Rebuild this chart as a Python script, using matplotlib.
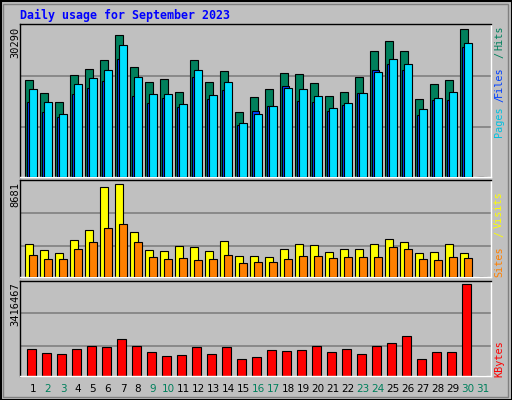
import matplotlib
matplotlib.use("Agg")
import matplotlib.pyplot as plt
from matplotlib.patches import Rectangle

# Données (jours 1..31)
days = list(range(1, 32))
hits = [19804, 17131, 15281, 20830, 22063, 23913, 29057, 22474, 19393, 20009,
        17336, 23913, 19393, 21652, 13225, 16308, 17953, 21241, 21036, 19187,
        16514, 17336, 20420, 25763, 27820, 25763, 15897, 18981, 19804, 30290, 0]
files = [15281, 13225, 12197, 16925, 18159, 19598, 24119, 16514, 15075, 16103,
         14253, 20420, 15897, 17747, 10552, 13431, 14458, 18570, 15486, 15281,
         13431, 14664, 17131, 21858, 23091, 21858, 12608, 15692, 15692, 26587, 0]
pages = [17953, 15281, 12814, 18981, 20214, 21858, 26998, 20420, 16925, 16925,
         14869, 21858, 16719, 19392, 10963, 12814, 14458, 18159, 17953, 16514,
         14047, 15075, 17131, 21447, 24119, 23091, 13841, 16103, 17336, 27409, 0]
visits = [3040, 2476, 2194, 3416, 4357, 8399, 8681, 4168, 2476, 2382,
          2852, 2758, 2382, 3322, 1912, 1912, 1818, 2570, 3040, 2946,
          2288, 2570, 2570, 3040, 3510, 3228, 2194, 2288, 3040, 2194, 0]
sites = [2006, 1630, 1630, 2570, 3228, 4544, 4921, 3228, 1818, 1630,
         1724, 1536, 1630, 2006, 1254, 1348, 1348, 1630, 1912, 1912,
         1724, 1818, 1818, 1818, 2758, 2570, 1630, 1536, 1818, 1724, 0]
kbytes = [985029, 835400, 798000, 985029, 1097246, 1059840, 1359100, 1097246, 872810, 723200,
          760600, 1059840, 798000, 1059840, 611000, 685800, 947600, 910200, 947600, 1097246,
          872810, 985029, 798000, 1097246, 1209460, 1471300, 611000, 872810, 872810, 3416467, 0]
weekend = [2, 3, 9, 10, 16, 17, 23, 24, 30, 31]

W, H = 512, 400
fig = plt.figure(figsize=(W / 100, H / 100), dpi=100, facecolor="#C0C0C0")

def px_axes(top, bottom, left=20, right=491):
    return fig.add_axes([left / W, 1 - bottom / H, (right - left) / W, (bottom - top) / H])

def style(ax, maxval, frac, grids):
    ax.set_facecolor("#C0C0C0")
    ax.set_xlim(1 - 13 / 15, 1 + (471 - 13) / 15)
    ax.set_ylim(0, maxval / frac)
    for g in grids:
        ax.axhline(maxval / frac * g, color="#808080", lw=1.2, zorder=0)
    ax.set_xticks([])
    ax.set_yticks([])
    for s in ax.spines.values():
        s.set_color("black")
        s.set_linewidth(1)
    ax.spines["right"].set_color("white")
    ax.spines["bottom"].set_color("white")

mono = "DejaVu Sans Mono"
lw = 0.8

# panneau du haut : hits / files / pages
ax1 = px_axes(24.3, 176.7)
style(ax1, 30290, 0.967, [0.324, 0.659])
x = days
ax1.bar([d - 0.27 for d in x], hits, width=0.48, color="#00805C", edgecolor="black", lw=lw, zorder=2)
ax1.bar([d - 0.17 for d in x], files, width=0.48, color="#0040FF", edgecolor="black", lw=lw, zorder=3)
ax1.bar(x, pages, width=0.48, color="#00E0FF", edgecolor="black", lw=lw, zorder=4)

# panneau du milieu : visits / sites
ax2 = px_axes(180, 276.7)
style(ax2, 8681, 0.955, [0.317, 0.656])
ax2.bar([d - 0.25 for d in x], visits, width=0.54, color="#FFFF00", edgecolor="black", lw=lw, zorder=2)
ax2.bar(x, sites, width=0.48, color="#FF8000", edgecolor="black", lw=lw, zorder=3)

# panneau du bas : kbytes
ax3 = px_axes(280.7, 375.7)
style(ax3, 3416467, 0.962, [0.31, 0.657])
ax3.bar([d - 0.1 for d in x], kbytes, width=0.66, color="#FF0000", edgecolor="black", lw=lw, zorder=2)

def ftext(px, py, s, **kw):
    fig.text(px / W, 1 - py / H, s, **kw)

ftext(20, 15, "Daily usage for September 2023", color="#0000FF", family=mono,
      fontsize=8.4, fontweight="bold", va="center", ha="left")

# valeurs max à gauche
for py, s in [(25, "30290"), (180, "8681"), (280, "3416467")]:
    ftext(15, py + 2, s, rotation=90, family=mono, fontsize=7.5, va="top", ha="center")

# légendes à droite (texte vertical)
legend_parts = [
    (137, "Pages", "#00C0E0"), (102, "/", "#0040FF"), (97, "Files", "#0040FF"),
    (58, "/", "#00805C"), (50, "Hits", "#00805C"),
    (277, "Sites", "#FF8000"), (237, "/", "#FFFF00"), (228, "Visits", "#FFFF00"),
    (377, "KBytes", "#FF0000"),
]
for py, s, c in legend_parts:
    ftext(499, py, s, rotation=90, family=mono, fontsize=7.3, color=c, va="bottom", ha="center")

# étiquettes des jours
for d in days:
    c = "#00805C" if d in weekend else "black"
    ftext(33 + (d - 1) * 15, 389, str(d), color=c, fontsize=7.5, ha="center", va="center")

# bordure de la figure
fig.patches.append(Rectangle((0.5 / W, 0.5 / H), 1 - 1 / W, 1 - 1 / H, transform=fig.transFigure,
                             fill=False, edgecolor="black", lw=1.5))
fig.patches.append(Rectangle((3 / W, 3 / H), 1 - 7 / W, 1 - 7 / H, transform=fig.transFigure,
                             fill=False, edgecolor="#808080", lw=1))

fig.savefig("out.png", dpi=100, facecolor=fig.get_facecolor())
